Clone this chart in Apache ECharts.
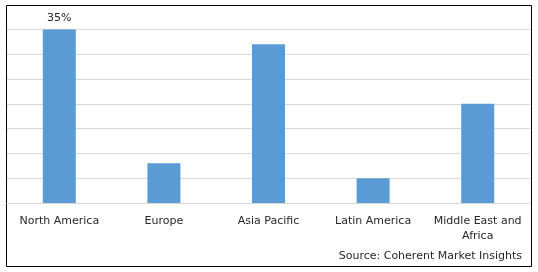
<!DOCTYPE html>
<html><head><meta charset="utf-8">
<script src="https://cdn.jsdelivr.net/npm/echarts@6/dist/echarts.min.js"></script>
<style>html,body{margin:0;padding:0;background:#fff}#c{width:538px;height:272px}</style>
</head><body><div id="c"></div>
<script>
const categories = ['North America', 'Europe', 'Asia Pacific', 'Latin America', 'Middle East and\nAfrica'];
const values = [35, 8, 32, 5, 20];
const shownLabels = ['35%', '', '', '', ''];
const sourceText = 'Source: Coherent Market Insights';

const chart = echarts.init(document.getElementById('c'), null, {renderer: 'canvas'});
const font = '"DejaVu Sans", Verdana, sans-serif';
chart.setOption({
  animation: false,
  textStyle: {fontFamily: font},
  grid: {left: 7, right: 8, top: 29.5, bottom: 69, containLabel: false},
  xAxis: {
    type: 'category', data: categories,
    axisLine: {show: true, lineStyle: {color: '#d9d9d9', width: 1}},
    axisTick: {show: false},
    axisLabel: {color: '#262626', fontSize: 11, fontFamily: font, margin: 11, lineHeight: 15, interval: 0}
  },
  yAxis: {
    type: 'value', min: 0, max: 35, interval: 5,
    axisLabel: {show: false}, axisLine: {show: false}, axisTick: {show: false},
    splitLine: {lineStyle: {color: '#d9d9d9', width: 1}}
  },
  series: [{
    type: 'bar', barWidth: 33,
    data: values.map((v, i) => ({value: v, label: {show: shownLabels[i] !== '', formatter: shownLabels[i]}})),
    itemStyle: {color: '#5b9bd5'},
    label: {position: 'top', distance: 6, color: '#262626', fontSize: 11, fontFamily: font}
  }],
  graphic: [
    {type: 'rect', shape: {x: 6.5, y: 5.5, width: 525, height: 261}, style: {fill: 'none', stroke: '#000', lineWidth: 1}, silent: true},
    {type: 'text', right: 16, top: 251, style: {text: sourceText, fill: '#262626', font: '11px ' + font}}
  ]
});
</script></body></html>
